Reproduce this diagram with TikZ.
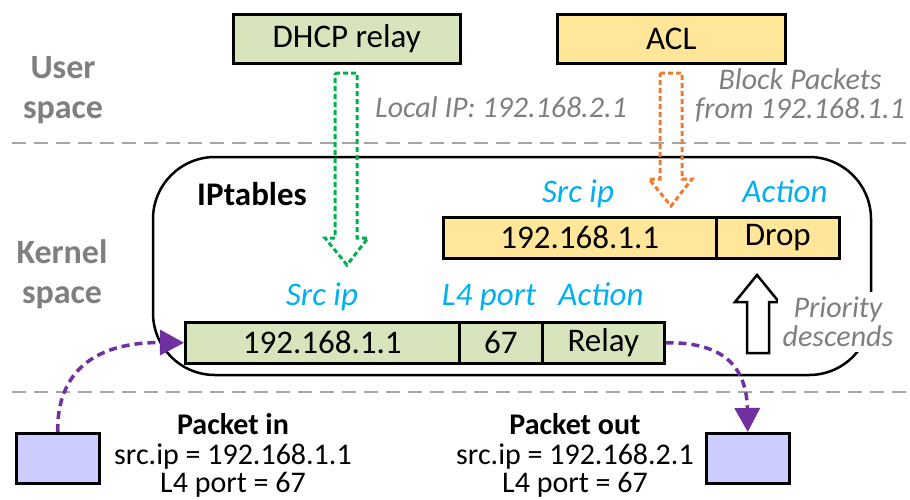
\documentclass[tikz,border=0pt]{standalone}
\usepackage{fontspec}
\setmainfont{Carlito}
\usetikzlibrary{arrows.meta}
\definecolor{cellgreen}{HTML}{D8E4BC}
\definecolor{cellyellow}{HTML}{FFE699}
\definecolor{dotgreen}{HTML}{00B050}
\definecolor{dotorange}{HTML}{ED7D31}
\definecolor{labelcyan}{HTML}{00B0F0}
\definecolor{notegray}{HTML}{7F7F7F}
\definecolor{linegray}{HTML}{A6A6A6}
\definecolor{pktpurple}{HTML}{7030A0}
\definecolor{pktfill}{HTML}{CCCCFF}
\newcommand{\bigfont}{\fontsize{33}{36}\selectfont}
\newcommand{\midfont}{\fontsize{30}{30}\selectfont}
\tikzset{
  cellbox/.style={draw, line width=2.5pt, inner sep=0pt, anchor=north west, font=\bigfont},
  appbox/.style={draw, line width=2.5pt, inner sep=0pt, anchor=north west, font=\bigfont},
  field/.style={text=labelcyan, font=\bigfont\itshape, anchor=base},
  note/.style={text=notegray, font=\midfont\itshape, anchor=base},
  region/.style={text=notegray, font=\fontsize{34}{36}\selectfont\bfseries, anchor=base},
  pktinfo/.style={font=\midfont, anchor=base},
  layerline/.style={linegray, line width=2pt, dash pattern=on 14pt off 8pt},
  hollow/.style={line width=3pt, dash pattern=on 5pt off 3pt, line join=miter},
  pktarrow/.style={pktpurple, line width=3.5pt, dash pattern=on 8pt off 5pt,
    -{Triangle[length=24pt,width=25pt]}},
  pktbox/.style={draw, line width=2.5pt, fill=pktfill, inner sep=0pt,
    minimum width=83pt, minimum height=50pt, anchor=north west}
}
\begin{document}
\begin{tikzpicture}[x=1pt, y=-1pt]
\useasboundingbox (0,0) rectangle (910,499);

% layer separators
\coordinate (l1a) at (12,143);  \coordinate (l1b) at (910,143);
\coordinate (l2a) at (12,392);  \coordinate (l2b) at (910,392);
\draw[layerline] (l1a) -- (l1b);
\draw[layerline] (l2a) -- (l2b);

% layer names
\node[region] (u1) at (63,78) {User};
\node[region] (u2) at (63,118) {space};
\node[region] (k1) at (62,263) {Kernel};
\node[region] (k2) at (62,303) {space};

% user-space applications
\node[appbox, fill=cellgreen, minimum width=227pt, minimum height=49pt] (dhcp) at (232,13) {DHCP relay};
\node[appbox, fill=cellyellow, minimum width=228pt, minimum height=49pt] (acl) at (556,13) {ACL};

\node[note] (localip) at (501,117) {Local IP: 192.168.2.1};
\node[note] (blk1) at (800,89) {Block Packets};
\node[note] (blk2) at (800,118) {from 192.168.1.1};

% iptables container
\node[draw, line width=2.5pt, rounded corners=62pt, minimum width=718pt, minimum height=218pt, inner sep=0pt] (ipt) at (512,266) {};
\node[font=\bigfont\bfseries, anchor=base] (iptl) at (252,205) {IPtables};

% hollow arrows pushing rules into the kernel
\draw[hollow, dotgreen] (335,73) -- (357,73) -- (357,238) -- (368,238) -- (347,265) -- (325,238) -- (335,238) -- cycle;
\draw[hollow, dotorange] (660,73) -- (682,73) -- (682,179) -- (692,179) -- (671,206) -- (649,179) -- (660,179) -- cycle;

% ACL rule
\node[field] (ysrc) at (578,202) {Src ip};
\node[field] (yact) at (785,202) {Action};
\node[cellbox, fill=cellyellow, minimum width=273pt, minimum height=41pt] (y1) at (442,216) {192.168.1.1};
\node[cellbox, fill=cellyellow, minimum width=123pt, minimum height=41pt] (y2) at (715,216) {Drop};

% DHCP relay rule
\node[field] (gsrc) at (322,305) {Src ip};
\node[field] (gport) at (489,305) {L4 port};
\node[field] (gact) at (601,305) {Action};
\node[cellbox, fill=cellgreen, minimum width=274pt, minimum height=41pt] (g1) at (184,321) {192.168.1.1};
\node[cellbox, fill=cellgreen, minimum width=83pt, minimum height=41pt] (g2) at (458,321) {67};
\node[cellbox, fill=cellgreen, minimum width=122pt, minimum height=41pt] (g3) at (541,321) {Relay};

% priority
\draw[line width=2.5pt, fill=white, line join=miter] (747,353) -- (747,302) -- (735,302) -- (757,275) -- (779,302) -- (769,302) -- (769,353) -- cycle;
\node[fill=white, inner sep=5pt, text=notegray, font=\midfont\itshape, align=center] (prio) at (838,322) {Priority\\[-1pt]descends};

% packets
\node[pktbox] (pin) at (15,432) {};
\node[pktbox] (pout) at (705,432) {};
\node[pktinfo, font=\midfont\bfseries] (pin1) at (233,434) {Packet in};
\node[pktinfo] (pin2) at (233,464) {src.ip = 192.168.1.1};
\node[pktinfo] (pin3) at (233,492) {L4 port = 67};
\node[pktinfo, font=\midfont\bfseries] (pout1) at (575,434) {Packet out};
\node[pktinfo] (pout2) at (575,464) {src.ip = 192.168.2.1};
\node[pktinfo] (pout3) at (575,492) {L4 port = 67};

\draw[pktarrow] (pin.north) .. controls (56.5,372) and (95,342) .. (g1.west);
\draw[pktarrow] (g3.east) .. controls (718,342) and (746.5,362) .. (pout.north);
\end{tikzpicture}
\end{document}
